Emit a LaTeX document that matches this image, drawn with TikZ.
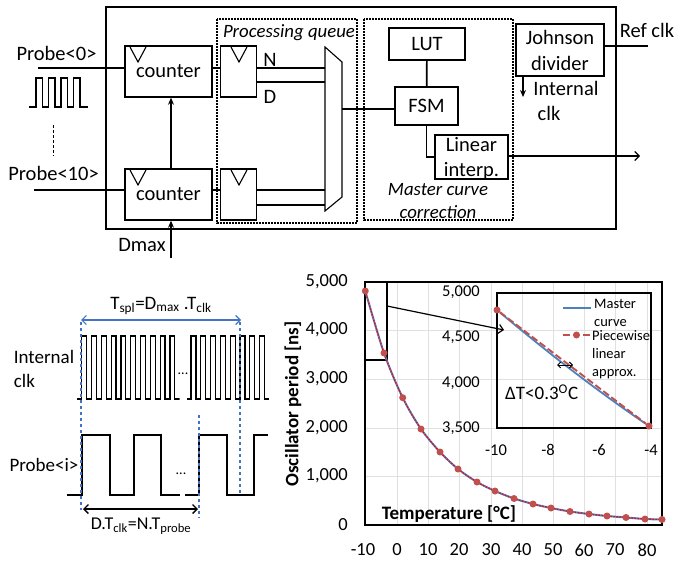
\documentclass[tikz,border=0pt]{standalone}
\usepackage{fontspec}
\setmainfont{Carlito}
\usetikzlibrary{arrows.meta}
\newcommand{\clkpulse}{-- ++(0,-63) -- ++(4.9,0) -- ++(0,63) -- ++(4.9,0)}
\tikzset{
  >={Straight Barb[length=4.5pt,width=9pt]},
  filltip/.style={-{Stealth[length=7pt,width=6pt]}},
  txt/.style={font=\fontsize{20.5}{25}\selectfont,inner sep=0pt,align=center},
  lowtxt/.style={font=\fontsize{19}{24}\selectfont,inner sep=0pt},
  itxt/.style={font=\fontsize{18.8}{23}\selectfont\itshape,inner sep=0pt,align=center},
  box/.style={draw,line width=1.5pt,inner sep=0pt,txt},
  group/.style={draw,densely dotted,line width=2pt},
  wire/.style={line width=1.1pt},
  bus/.style={line width=1.7pt},
  guide/.style={dashed,line width=1.1pt,color=guideblue},
  gridline/.style={line width=1pt,color=black!12},
  tick/.style={font=\fontsize{18.5}{22}\selectfont,inner sep=0pt},
  smalltick/.style={font=\fontsize{16.5}{18}\selectfont,inner sep=0pt},
  legend/.style={font=\fontsize{14.5}{18}\selectfont,inner sep=0pt},
  redline/.style={markred,dash pattern=on 7pt off 3pt,line width=1.9pt},
  dot/.style={circle,fill=markred,inner sep=0pt,minimum size=7pt},
}
\definecolor{guideblue}{RGB}{68,114,196}
\definecolor{curveblue}{RGB}{79,129,189}
\definecolor{markred}{RGB}{192,80,77}
\begin{document}
\begin{tikzpicture}[x=1pt,y=-1pt]
  \useasboundingbox (0,0) rectangle (674,561);
  % block diagram
  \draw[line width=2.4pt] (106,7) rectangle (616,229);
  \draw[group] (217,19) rectangle (357,223);
  \draw[group] (364,19) rectangle (513,220);
  \node[box,minimum width=87pt,minimum height=51pt] (cntA)  at (168.5,71.5) {\raisebox{-5pt}{counter}};
  \node[box,minimum width=87pt,minimum height=51pt] (cntB)  at (168.5,194.5) {\raisebox{-5pt}{counter}};
  \node[box,minimum width=36pt,minimum height=51pt] (regA)  at (238.5,71.5) {};
  \node[box,minimum width=36pt,minimum height=51pt] (regB)  at (238.5,194.5) {};
  \node[box,minimum width=76pt,minimum height=32pt] (lut)   at (427,44) {LUT};
  \node[box,minimum width=63pt,minimum height=38pt] (fsm)   at (426.5,106) {\raisebox{-1pt}{FSM}};
  \node[box,minimum width=73pt,minimum height=44pt,label={[txt,yshift=-1.5pt]center:{Linear\\interp.}}] (interp) at (471.5,157) {};
  \node[box,minimum width=88pt,minimum height=52pt] (johnson) at (560,50) {Johnson\\[1pt]divider};
  \draw[line width=1.1pt] (130,47) -- (138,62) -- (146,47);
  \draw[line width=1.1pt] (130,170) -- (138,185) -- (146,170);
  \draw[line width=1.1pt] (231,47) -- (239,62) -- (247,47);
  \draw[line width=1.1pt] (231,170) -- (239,185) -- (247,170);
  % mux
  \draw[wire] (325,47) -- (342,62) -- (342,197) -- (325,211) -- cycle;
  \coordinate (probeA) at (38,68);
  \coordinate (probeB) at (34,190);
  \coordinate (muxN)   at (325,68);
  \coordinate (muxD)   at (325,82);
  \coordinate (muxP)   at (325,190);
  \coordinate (muxQ)   at (325,205);
  \coordinate (muxO)   at (342,109);
  \coordinate (dmax)   at (171,258);
  \coordinate (out)    at (640,156);
  \coordinate (refclk) at (648,46);
  \coordinate (intclk) at (523,97);
  \draw[wire] (probeA) -- (probeA -| cntA.west);
  \draw[bus]  (probeB) -- (probeB -| cntB.west);
  \draw[wire] (cntA.east |- probeA) -- (regA.west |- probeA);
  \draw[bus]  (cntB.east |- probeB) -- (regB.west |- probeB);
  \draw[wire] (regA.east |- muxN) -- (muxN);
  \draw[bus]  (regA.east |- muxD) -- (muxD);
  \draw[bus]  (regB.east |- muxP) -- (muxP);
  \draw[bus]  (regB.east |- muxQ) -- (muxQ);
  \draw[wire] (muxO) -- (muxO -| fsm.west);
  \draw[bus]  (lut) -- (fsm);
  \draw[bus]  (fsm) -- (fsm.south |- interp.west) -- (interp.west);
  \draw[wire,->] (interp.east |- out) -- (out);
  \draw[bus]  (johnson.east |- refclk) -- (refclk);
  \draw[wire,filltip] (johnson.south -| intclk) -- (intclk);
  \draw[wire,filltip] (cntB.north -| dmax) -- (cntA.south -| dmax);
  \draw[wire,filltip] (dmax) -- (cntB.south -| dmax);
  \node[txt] (lblProbeA)  at (56.5,53) {Probe<0>};
  \node[txt] (lblProbeB)  at (53.5,173) {Probe<10>};
  \node[txt] (lblDmax)    at (142,245) {Dmax};
  \node[txt] (lblN)       at (270,60) {N};
  \node[txt] (lblD)       at (270,97) {D};
  \node[txt] (lblRef)     at (647,30) {Ref clk};
  \node[txt] (lblInt)     at (566,88) {Internal};
  \node[txt] (lblClk)     at (549,113) {clk};
  \node[itxt] (lblQueue)  at (289,33) {Processing queue};
  \node[itxt] (lblMaster) at (438,201.5) {Master curve\\correction};
  \draw[wire] (29,107) -- (36,107) -- (36,78) -- (42.5,78) -- (42.5,107) -- (48.5,107) -- (48.5,78)
     -- (55,78) -- (55,107) -- (61,107) -- (61,78) -- (67.5,78) -- (67.5,107) -- (73.5,107)
     -- (73.5,78) -- (80,78) -- (80,107) -- (88,107);
  \draw[densely dashed,line width=.6pt] (53,125) -- (53,156);
  % timing diagram
  \node[lowtxt] (lblTspl) at (161,306) {T\textsubscript{spl}=D\textsubscript{max} .T\textsubscript{clk}};
  \node[lowtxt,align=left] (lblIclk) at (44,369) {Internal\\clk};
  \node[lowtxt] (lblProbeI) at (44,465) {Probe<i>};
  \node[lowtxt,font=\fontsize{18}{22}\selectfont] (lblDT)   at (141,526) {D.T\textsubscript{clk}=N.T\textsubscript{probe}};
  \node[lowtxt,font=\fontsize{14}{16}\selectfont] (dotsA)   at (183,374) {...};
  \node[lowtxt,font=\fontsize{14}{16}\selectfont] (dotsB)   at (181,474) {...};
  \draw[line width=1.2pt] (77,399) -- (81.7,399) \clkpulse \clkpulse \clkpulse \clkpulse \clkpulse
     \clkpulse \clkpulse \clkpulse \clkpulse \clkpulse -- ++(-1,0);
  \draw[line width=1.2pt] (187,399) -- (191,399) \clkpulse \clkpulse \clkpulse \clkpulse \clkpulse
     \clkpulse \clkpulse \clkpulse;
  \draw[line width=1.7pt] (67,495) -- (82,495) -- (82,435) -- (110,435) -- (110,495) -- (134,495)
     -- (134,435) -- (161,435) -- (161,495) -- (180,495);
  \draw[line width=1.7pt] (185,495) -- (199,495) -- (199,435) -- (227,435) -- (227,495) -- (254,495)
     -- (254,435) -- (268,435);
  \coordinate (tsplA) at (81,320);
  \coordinate (tsplB) at (241,320);
  \coordinate (dtA)   at (83,509);
  \coordinate (dtB)   at (198,509);
  \draw[guide] (81,322) -- (81,510);
  \draw[guide] (240,322) -- (240,495);
  \draw[guide] (199,415) -- (199,518);
  \draw[line width=1.2pt,color=guideblue,<->] (tsplA) -- (tsplB);
  \draw[line width=1.3pt,<->] (dtA) -- (dtB);
  % chart
  \draw[gridline] (397,282) -- (397,525) (428,282) -- (428,525) (459,282) -- (459,525) (491,282) -- (491,525)
     (522,282) -- (522,525) (553,282) -- (553,525) (584,282) -- (584,525) (615,282) -- (615,525) (647,282) -- (647,525);
  \draw[gridline] (365,476) -- (662,476) (365,428) -- (662,428) (365,379) -- (662,379) (365,330) -- (662,330);
  \draw[line width=1.6pt] (365,525) -- (365,282) -- (662,282) -- (662,525) -- cycle;
  \draw[line width=1.2pt] (365,282) rectangle (387,360);
  \draw[line width=1.2pt] (497,293) rectangle (651,428);
  \draw[line width=1.2pt,->] (387,306) -- (504,330);
  \draw[curveblue,line width=2pt] plot[smooth] coordinates {(365.3,291) (384,353) (402.7,397.7) (421,429)
     (440,452) (458,469) (477,482) (495,491) (514,498.5) (533,504) (551,508) (570,511.5) (589,514) (607,516) (626,517.5) (645,519) (662,519.5)};
  \draw[red,dash pattern=on 1.5pt off 1.5pt,line width=1.2pt] plot[smooth] coordinates {(365.3,291) (384,353) (402.7,397.7) (421,429)
     (440,452) (458,469) (477,482) (495,491) (514,498.5) (533,504) (551,508) (570,511.5) (589,514) (607,516) (626,517.5) (645,519) (662,519.5)};
  \node[dot] (pA) at (365.3,291) {}; \node[dot] (pB) at (384,353) {}; \node[dot] (pC) at (402.7,397.7) {};
  \node[dot] (pD) at (421,429) {}; \node[dot] (pE) at (440,452) {}; \node[dot] (pF) at (458,469) {};
  \node[dot] (pG) at (477,482) {}; \node[dot] (pH) at (495,491) {}; \node[dot] (pI) at (514,498.5) {};
  \node[dot] (pJ) at (533,504) {}; \node[dot] (pK) at (551,508) {}; \node[dot] (pL) at (570,511.5) {};
  \node[dot] (pM) at (589,514) {}; \node[dot] (pN) at (607,516) {}; \node[dot] (pO) at (626,517.5) {};
  \node[dot] (pP) at (645,519) {}; \node[dot] (pQ) at (662,519.5) {};
  % inset curves
  \node[dot] (insA) at (497,310) {};
  \node[dot] (insB) at (649,426) {};
  \draw[curveblue,line width=1.8pt] (insA) .. controls (540,346) and (590,386) .. (insB);
  \draw[redline] (insA) -- (insB);
  \coordinate (legA) at (563,308);
  \coordinate (legB) at (591,308);
  \coordinate (legC) at (563,335);
  \coordinate (legD) at (591,335);
  \coordinate (gapA) at (557,365);
  \coordinate (gapB) at (573,365);
  \draw[curveblue,line width=1.8pt] (legA) -- (legB);
  \draw[redline] (legC) -- (legD);
  \node[dot] (legDot) at (576.5,335) {};
  \draw[line width=1pt,{Straight Barb[length=3pt,width=6pt]}-{Straight Barb[length=3pt,width=6pt]}] (gapA) -- (gapB);
  \node[legend,anchor=west,align=left] (lblMas) at (594,313) {Master\\curve};
  \node[legend,anchor=west,align=left] (lblPie) at (592,355) {Piecewise\\linear\\approx.};
  \node[anchor=west,inner sep=0pt,font=\fontsize{19}{22}\selectfont] (lblErr) at (505,392) {ΔT<0.3\textsuperscript{O}C};
  % axes text
  \node[tick,anchor=east] (yE) at (348,282) {5,000};
  \node[tick,anchor=east] (yD) at (348,330) {4,000};
  \node[tick,anchor=east] (yC) at (348,379) {3,000};
  \node[tick,anchor=east] (yB) at (348,428) {2,000};
  \node[tick,anchor=east] (yA) at (348,476) {1,000};
  \node[tick,anchor=east] (yO) at (348,525) {0};
  \node[tick] (xA) at (363,550) {-10};
  \node[tick] (xB) at (397,550) {0};
  \node[tick] (xC) at (428,550) {10};
  \node[tick] (xD) at (459,550) {20};
  \node[tick] (xE) at (491,550) {30};
  \node[tick] (xF) at (522,550) {40};
  \node[tick] (xG) at (553,550) {50};
  \node[tick] (xH) at (584,550) {60};
  \node[tick] (xI) at (615,550) {70};
  \node[tick] (xJ) at (647,550) {80};
  \node[smalltick] (iyA) at (461,292) {5,000};
  \node[smalltick] (iyB) at (461,337) {4,500};
  \node[smalltick] (iyC) at (461,383) {4,000};
  \node[smalltick] (iyD) at (461,428) {3,500};
  \node[smalltick] (ixA) at (496,450) {-10};
  \node[smalltick] (ixB) at (548,450) {-8};
  \node[smalltick] (ixC) at (599,450) {-6};
  \node[smalltick] (ixD) at (651,450) {-4};
  \node[font=\fontsize{19}{22}\selectfont\bfseries,inner sep=0pt] (lblTemp) at (449,514) {Temperature [°C]};
  \node[font=\fontsize{19}{22}\selectfont\bfseries,inner sep=0pt,rotate=90] (lblPer) at (293,404) {Oscillator period [ns]};
\end{tikzpicture}
\end{document}
